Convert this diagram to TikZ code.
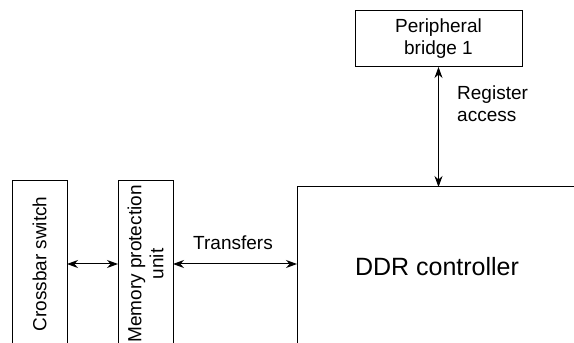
\documentclass[tikz,border=0pt]{standalone}
\usepackage{fontspec}
\setmainfont{Liberation Sans}
\usetikzlibrary{arrows.meta}
\tikzset{
  blk/.style={draw, line width=1pt, inner sep=0pt, outer sep=0pt, align=center},
  lbl/.style={font=\fontsize{19}{22}\selectfont},
  conn/.style={line width=1pt, {Stealth[length=11pt,width=8pt,inset=3.5pt]}-{Stealth[length=11pt,width=8pt,inset=3.5pt]}}
}
\begin{document}
\begin{tikzpicture}[x=1pt,y=1pt]
\useasboundingbox (0,0) rectangle (574,343);
\clip (0,0) rectangle (574,343);
\fill[white] (0,0) rectangle (574,343);
\node[blk, lbl, rotate=90, minimum width=166pt, minimum height=55pt] (cb) at (39.5,79) {Crossbar switch};
\node[blk, lbl, rotate=90, minimum width=166pt, minimum height=55pt] (mpu) at (145.5,79) {Memory protection\\unit};
\node[blk, font=\fontsize{25}{30}\selectfont, minimum width=280pt, minimum height=160pt] (ddr) at (437,76) {DDR controller};
\node[blk, lbl, minimum width=167pt, minimum height=56pt] (pb) at (438.5,304) {Peripheral\\bridge 1};
\draw[conn] (cb.south) -- (mpu.north);
\draw[conn] (mpu.south) -- (mpu.south -| ddr.west);
\draw[conn] (pb.south) -- (pb.south |- ddr.north);
\node[lbl, anchor=base, inner sep=0pt] (tr) at (233,93) {Transfers};
\node[lbl, anchor=base west, inner sep=0pt, align=left] (ra) at (457,221) {Register\\access};
\end{tikzpicture}
\end{document}
